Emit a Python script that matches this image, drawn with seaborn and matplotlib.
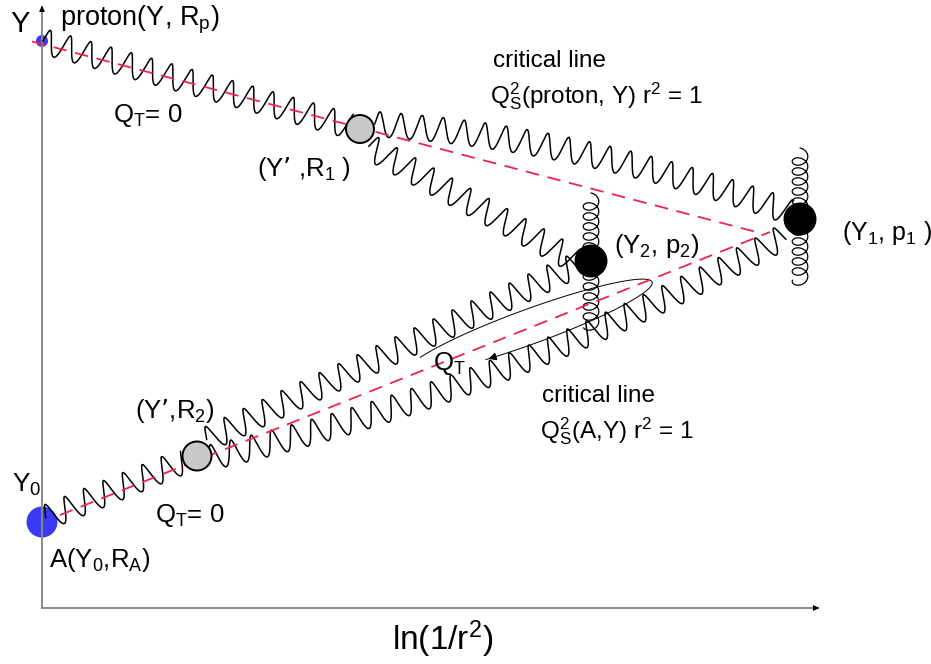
import numpy as np
import pandas as pd
import matplotlib
matplotlib.use("Agg")
import matplotlib.pyplot as plt
from matplotlib.patches import Circle
import seaborn as sns

# ---------------- data (diagram coordinates, pixel-like units) ----------------
node_names = ["proton", "A", "R1", "R2", "Y2", "Y1"]
node_x = [42, 42, 360, 197, 591, 800]
node_y = [41, 522, 129, 456, 261, 219]

# gluon (wavy) lines: start, optional control point, end
wave_start_x = [42, 374, 368, 45, 206, 208]
wave_start_y = [41, 124, 146, 518, 440, 458]
wave_ctrl_x = [None, 579, None, None, None, 500]
wave_ctrl_y = [None, 137, None, None, None, 394]
wave_end_x = [350, 790, 578, 184, 577, 785]
wave_end_y = [126, 212, 262, 461, 265, 236]

# critical lines (dashed)
crit_proton_x = [32, 760]
crit_proton_y = [41.5, 233]
crit_A_x = [60, 770]
crit_A_y = [515, 232]

# curly gluons (vertical)
curl_x = [591, 800]
curl_top = [193, 148]
curl_bottom = [327, 283]

# axes
axis_origin = (42, 608)
axis_x_end = 822
axis_y_end = 3

# Q_T loop (ellipse)
loop_center = (530, 326.5)
loop_axes = (130, 17.5)
loop_angle = 20
loop_t_range = (-151, 114)

labels = [
    ("Y", 10, 32, 21),
    ("proton(Y, R$_p$)", 60, 26, 19.5),
    ("Q$_T$= 0", 113, 122, 18.5),
    ("(Y\u2019 ,R$_1$ )", 257, 176, 18.5),
    ("critical line", 493, 67, 17.5),
    ("Q$_S^2$(proton, Y) r$^2$ = 1", 490, 103, 17.5),
    ("(Y$_2$, p$_2$)", 614, 253, 18.5),
    ("(Y$_1$, p$_1$ )", 842, 240, 18),
    ("Q$_T$", 433, 370, 18.5),
    ("critical line", 542, 402, 17.5),
    ("Q$_S^2$(A,Y) r$^2$ = 1", 540, 438, 17.5),
    ("(Y\u2019,R$_2$)", 135, 418, 18.5),
    ("Y$_0$", 12, 492, 19),
    ("Q$_T$= 0", 155, 522, 18.5),
    ("A(Y$_0$,R$_A$)", 49, 567, 18.5),
    ("ln(1/r$^2$)", 392, 650, 24),
]

# ---------------- styling ----------------
sns.set_theme(style="white")
plt.rcParams["font.family"] = ["Liberation Sans", "DejaVu Sans"]
plt.rcParams["mathtext.default"] = "regular"

node_r = [6, 15.5, 14, 14.5, 15.5, 15.5]
node_fc = ["#3a3af2", "#3a3af2", "#c8c8c8", "#c8c8c8", "black", "black"]
node_ec = ["none", "none", "black", "black", "black", "black"]
node_z = [1, 1, 5, 5, 5, 5]

fig = plt.figure(figsize=(9.31, 6.64), dpi=100)
ax = fig.add_axes([0, 0, 1, 1])
ax.set_xlim(0, 931)
ax.set_ylim(664, 0)
ax.set_aspect("equal")
ax.axis("off")


def draw(xs, ys, **kw):
    df = pd.DataFrame({"x": xs, "y": ys})
    sns.lineplot(data=df, x="x", y="y", sort=False, estimator=None, ax=ax, **kw)


def wave_points(p0, p1, p2, amp=12.5, wl=21.0, n=3000):
    p0 = np.asarray(p0, float)
    p2 = np.asarray(p2, float)
    p1 = (p0 + p2) / 2 if p1 is None else np.asarray(p1, float)
    t = np.linspace(0, 1, n)[:, None]
    base = (1 - t) ** 2 * p0 + 2 * t * (1 - t) * p1 + t ** 2 * p2
    d = np.gradient(base, axis=0)
    seg = np.r_[0, np.cumsum(np.hypot(np.diff(base[:, 0]), np.diff(base[:, 1])))]
    T = d / np.hypot(d[:, 0], d[:, 1])[:, None]
    N = np.c_[T[:, 1], -T[:, 0]]
    ph = 2 * np.pi * seg / wl
    pts = base + amp * np.sin(ph)[:, None] * N + 0.8 * np.cos(ph)[:, None] * T
    return pts[:, 0], pts[:, 1]


def curl_points(cx, y0, y1, pitch=10.0, ra=6.0, rp=7.8, n=3000):
    T = 2 * np.pi * (y1 - y0 - 2 * ra) / pitch + np.pi
    t = np.linspace(0, T, n)
    y = y0 + ra * (1 - np.cos(t)) + pitch * t / (2 * np.pi)
    x = cx + rp * np.sin(t)
    return x, y


# axes
ox, oy = axis_origin
draw([ox, ox], [oy, axis_y_end + 4], color="#8a8a8a", lw=1.4)
draw([ox, axis_x_end - 4], [oy, oy], color="#8a8a8a", lw=1.4)
ax.annotate("", xy=(ox, axis_y_end), xytext=(ox, axis_y_end + 8),
            arrowprops=dict(arrowstyle="-|>", color="black", lw=0.8, mutation_scale=8))
ax.annotate("", xy=(axis_x_end, oy), xytext=(axis_x_end - 8, oy),
            arrowprops=dict(arrowstyle="-|>", color="black", lw=0.8, mutation_scale=8))

# critical (dashed) lines
for xs, ys in [(crit_proton_x, crit_proton_y), (crit_A_x, crit_A_y)]:
    draw(xs, ys, color="#f0224e", lw=1.3, linestyle=(0, (7.5, 4.8)), zorder=3)

# wavy gluons
for i in range(len(wave_start_x)):
    p1 = None if wave_ctrl_x[i] is None else (wave_ctrl_x[i], wave_ctrl_y[i])
    xs, ys = wave_points((wave_start_x[i], wave_start_y[i]), p1,
                         (wave_end_x[i], wave_end_y[i]))
    draw(xs, ys, color="black", lw=1.1, zorder=2)

# curly gluons
for cx, y0, y1 in zip(curl_x, curl_top, curl_bottom):
    xs, ys = curl_points(cx, y0, y1)
    draw(xs, ys, color="black", lw=0.9, zorder=2)

# Q_T loop with arrow
a, b = loop_axes
th = np.deg2rad(loop_angle)
u = np.array([np.cos(th), -np.sin(th)])
nv = np.array([np.sin(th), np.cos(th)])
tt = np.deg2rad(np.linspace(loop_t_range[0], loop_t_range[1], 600))
lp = np.array(loop_center) + np.outer(a * np.cos(tt), u) + np.outer(b * np.sin(tt), nv)
draw(lp[:, 0], lp[:, 1], color="black", lw=0.7, zorder=2)
ax.annotate("", xy=(lp[-1, 0], lp[-1, 1]), xytext=(lp[-12, 0], lp[-12, 1]),
            arrowprops=dict(arrowstyle="-|>", color="black", lw=0.7, mutation_scale=12),
            zorder=3)

# nodes
for x, y, r, fc, ec, z in zip(node_x, node_y, node_r, node_fc, node_ec, node_z):
    ax.add_patch(Circle((x, y), r, facecolor=fc, edgecolor=ec, lw=1.4, zorder=z))

# labels
for txt, x, y, fs in labels:
    ax.text(x, y, txt, fontsize=fs, ha="left", va="baseline", color="black", zorder=6)

fig.savefig("out.png", dpi=100)
